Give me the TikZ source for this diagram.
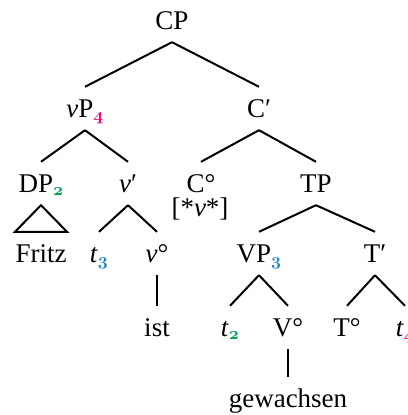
\documentclass[tikz,border=0pt]{standalone}
\usepackage{fontspec}
\setmainfont{Liberation Serif}
\usepackage{xcolor}
\definecolor{idxpink}{RGB}{230,0,126}
\definecolor{idxgreen}{RGB}{0,158,80}
\definecolor{idxblue}{RGB}{30,130,200}
% old-style index digits, coloured by chain
\newcommand{\osn}[1]{{\usefont{OML}{cmm}{b}{it}#1}}
\newcommand{\ix}[2]{\textsubscript{\textcolor{#1}{\osn{#2}}}}
\newcommand{\nuit}{\textit{ν}}
\begin{document}
\begin{tikzpicture}[x=1pt,y=-1pt,
  txt/.style={anchor=base,inner sep=0pt,font=\fontsize{27}{32}\selectfont},
  lbl/.style={txt,inner ysep=8pt,text height=22pt,text depth=5pt},
  leaf/.style={txt,text height=30pt,text depth=0pt},
  edge/.style={line width=2pt}]
\useasboundingbox (0,0) rectangle (407,415);

% labels, placed by centre and baseline
\node[lbl] (cp)   at (172,29)  {CP};
\node[lbl] (vp)   at (85,117)  {\nuit P\ix{idxpink}{4}};
\node[lbl] (cbar) at (259,117) {C′};
\node[lbl] (dp)   at (41,192)  {DP\ix{idxgreen}{2}};
\node[lbl] (vbar) at (128,192) {\nuit′};
\node[leaf] (c0)  at (201,192) {C°};
\node[txt] (cfeat) at (200,216) {[*\nuit*]};
\node[lbl] (tp)   at (316,192) {TP};
\node[lbl] (fritz) at (41,262) {Fritz};
\node[lbl] (t3)   at (99,262)  {\textit{t}\ix{idxblue}{3}};
\node[lbl] (v0)   at (157,262) {\nuit°};
\node[lbl] (vpp)  at (259,262) {VP\ix{idxblue}{3}};
\node[lbl] (tbar) at (375,262) {T′};
\node[lbl] (ist)  at (157,336) {ist};
\node[lbl] (t2)   at (230,336) {\textit{t}\ix{idxgreen}{2}};
\node[lbl] (V0)   at (288,336) {V°};
\node[lbl] (T0)   at (347,336) {T°};
\node[lbl] (t4)   at (405,336) {\textit{t}\ix{idxpink}{4}};
\node[lbl] (gew)  at (288,407) {gewachsen};

% branches
\draw[edge] (cp.south) -- (vp.north);
\draw[edge] (cp.south) -- (cbar.north);
\draw[edge] (vp.south) -- (dp.north);
\draw[edge] (vp.south) -- (vbar.north);
\draw[edge] (cbar.south) -- (c0.north);
\draw[edge] (cbar.south) -- (tp.north);
\draw[edge] (dp.south) -- ([xshift=-26pt]fritz.north) -- ([xshift=26pt]fritz.north) -- cycle;
\draw[edge] (vbar.south) -- (t3.north);
\draw[edge] (vbar.south) -- (v0.north);
\draw[edge] (tp.south) -- (vpp.north);
\draw[edge] (tp.south) -- (tbar.north);
\draw[edge] (v0.south) -- (ist.north);
\draw[edge] (vpp.south) -- (t2.north);
\draw[edge] (vpp.south) -- (V0.north);
\draw[edge] (tbar.south) -- (T0.north);
\draw[edge] (tbar.south) -- (t4.north);
\draw[edge] (V0.south) -- (gew.north);
\end{tikzpicture}
\end{document}
